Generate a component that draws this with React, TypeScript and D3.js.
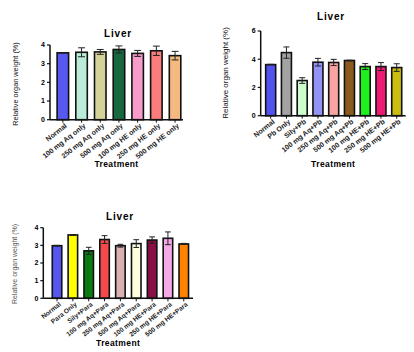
import React from "react";
import * as d3 from "d3";

// Chart 1
const cats1 = ["Normal", "100 mg Aq only", "250 mg Aq only", "500 mg Aq  only", "100 mg HE only", "250 mg HE only", "500 mg HE only"];
const vals1 = [3.58, 3.61, 3.63, 3.76, 3.55, 3.69, 3.43];
const errs1 = [0.02, 0.24, 0.13, 0.19, 0.16, 0.25, 0.23];
const cols1 = ["#5757f2", "#b9ecd9", "#d6d39a", "#17683f", "#f79bcb", "#f97d7d", "#f3b97f"];
const ticks1 = [0, 1, 2, 3, 4];

// Chart 2
const cats2 = ["Normal", "Pb Only", "Sily+Pb", "100 mg Aq+Pb", "250 mg Aq+Pb", "500 mg Aq+Pb", "100 mg HE+Pb", "250 mg HE+Pb", "500 mg HE+Pb"];
const vals2 = [3.62, 4.47, 2.49, 3.79, 3.77, 3.91, 3.48, 3.48, 3.41];
const errs2 = [0.02, 0.4, 0.2, 0.27, 0.22, 0.02, 0.21, 0.28, 0.27];
const cols2 = ["#5252f0", "#a3a3a3", "#ccffcc", "#9393f7", "#f9a3a3", "#8c5a1e", "#1ef01e", "#ef1a72", "#c9bd12"];
const ticks2 = [0, 2, 4, 6];

// Chart 3
const cats3 = ["Normal", "Para Only", "Sily+Para", "100 mg Aq+Para", "250 mg Aq+Para", "500 mg Aq+Para", "100 mg HE+Para", "250 mg HE+Para", "500 mg HE+Para"];
const vals3 = [2.98, 3.59, 2.69, 3.33, 2.98, 3.1, 3.3, 3.4, 3.08];
const errs3 = [0.02, 0.02, 0.2, 0.22, 0.08, 0.22, 0.18, 0.36, 0.03];
const cols3 = ["#5656f0", "#ffff00", "#0b7a12", "#f24a4a", "#d9b1b1", "#ffffe0", "#8a0f45", "#f2a9e6", "#ff8200"];
const ticks3 = [0, 1, 2, 3, 4];

type Cfg = {
  cats: string[]; vals: number[]; errs: number[]; cols: string[]; ticks: number[];
  axisX: number; axisEnd: number; y0: number; yTop: number; yMax: number;
  bandStart: number; bandEnd: number; barW: number;
  titleX: number; titleY: number; xLabY: number; yLabX: number; yLabY: number;
  yLabSize: number; yLabColor: string; yLabWeight: string | number; catSize: number;
};

const font = "Liberation Sans, Arial, sans-serif";

function BarChart({ c }: { c: Cfg }) {
  const y = d3.scaleLinear().domain([0, c.yMax]).range([c.y0, c.yTop]);
  const x = d3.scaleBand<string>().domain(c.cats).range([c.bandStart, c.bandEnd]);
  const step = x.step();
  const capW = Math.min(7, c.barW * 0.6);
  return (
    <g fontFamily={font}>
      <text x={c.titleX} y={c.titleY} textAnchor="middle" fontSize={10} fontWeight="bold" letterSpacing={0.8}>Liver</text>
      {c.cats.map((k, i) => {
        const cx = (x(k) as number) + step / 2;
        const top = y(c.vals[i]);
        const e1 = y(c.vals[i] + c.errs[i]);
        const e2 = y(c.vals[i] - c.errs[i]);
        return (
          <g key={k}>
            <rect x={cx - c.barW / 2} y={top} width={c.barW} height={c.y0 - top} fill={c.cols[i]} stroke="#111" strokeWidth={1.6} />
            <line x1={cx} x2={cx} y1={e1} y2={e2} stroke="#222" strokeWidth={1} />
            <line x1={cx - capW / 2} x2={cx + capW / 2} y1={e1} y2={e1} stroke="#222" strokeWidth={1} />
            <line x1={cx - capW / 2} x2={cx + capW / 2} y1={e2} y2={e2} stroke="#222" strokeWidth={1} />
            <line x1={cx} x2={cx} y1={c.y0} y2={c.y0 + 3} stroke="#111" strokeWidth={1} />
            <text transform={`translate(${cx + 3},${c.y0 + 5}) rotate(-38)`} textAnchor="end" dy="0.35em" fontSize={c.catSize} fontWeight="bold" fill="#222">{k}</text>
          </g>
        );
      })}
      <line x1={c.axisX} x2={c.axisX} y1={c.y0} y2={c.yTop} stroke="#111" strokeWidth={1.5} />
      <line x1={c.axisX} x2={c.axisEnd} y1={c.y0} y2={c.y0} stroke="#111" strokeWidth={1.5} />
      {c.ticks.map((t) => (
        <g key={t}>
          <line x1={c.axisX - 3} x2={c.axisX} y1={y(t)} y2={y(t)} stroke="#111" strokeWidth={1.2} />
          <text x={c.axisX - 5} y={y(t)} dy="0.35em" textAnchor="end" fontSize={7} fontWeight="bold">{t}</text>
        </g>
      ))}
      <text x={(c.axisX + c.axisEnd) / 2} y={c.xLabY} textAnchor="middle" fontSize={8.5} fontWeight="bold" letterSpacing={0.4}>Treatment</text>
      <text transform={`translate(${c.yLabX},${c.yLabY}) rotate(-90)`} textAnchor="middle" dy="0.35em" fontSize={c.yLabSize} fill={c.yLabColor} fontWeight={c.yLabWeight}>Relative organ weight (%)</text>
    </g>
  );
}

const c1: Cfg = {
  cats: cats1, vals: vals1, errs: errs1, cols: cols1, ticks: ticks1,
  axisX: 50, axisEnd: 183, y0: 119.7, yTop: 45, yMax: 4,
  bandStart: 53.5, bandEnd: 184.4, barW: 11.5,
  titleX: 118, titleY: 37, xLabY: 167, yLabX: 15, yLabY: 84,
  yLabSize: 7.3, yLabColor: "#111", yLabWeight: "normal", catSize: 7.1,
};
const c2: Cfg = {
  cats: cats2, vals: vals2, errs: errs2, cols: cols2, ticks: ticks2,
  axisX: 260.7, axisEnd: 405.7, y0: 115.7, yTop: 31, yMax: 6,
  bandStart: 262.8, bandEnd: 404.6, barW: 10,
  titleX: 331, titleY: 19.5, xLabY: 167, yLabX: 225, yLabY: 73,
  yLabSize: 8, yLabColor: "#111", yLabWeight: "normal", catSize: 7.1,
};
const c3: Cfg = {
  cats: cats3, vals: vals3, errs: errs3, cols: cols3, ticks: ticks3,
  axisX: 43.3, axisEnd: 193, y0: 298.3, yTop: 227.7, yMax: 4,
  bandStart: 49.1, bandEnd: 191.7, barW: 9.5,
  titleX: 120, titleY: 219.5, xLabY: 346, yLabX: 15, yLabY: 264,
  yLabSize: 7, yLabColor: "#555", yLabWeight: "normal", catSize: 6.6,
};

export default function App() {
  return (
    <svg width={414} height={352} style={{ position: "absolute", left: 0, top: 0, background: "#fff" }}>
      <rect width={414} height={352} fill="#fff" />
      <BarChart c={c1} />
      <BarChart c={c2} />
      <BarChart c={c3} />
    </svg>
  );
}
